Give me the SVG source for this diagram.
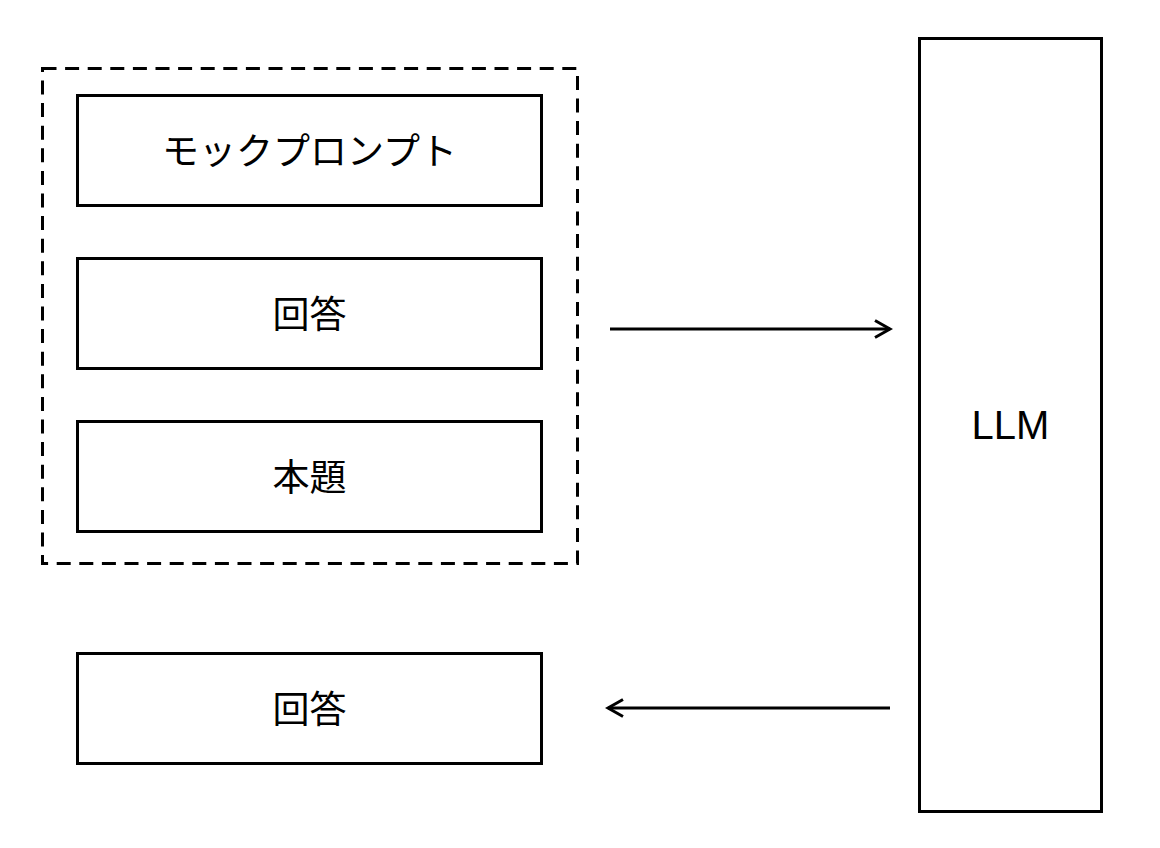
<svg xmlns="http://www.w3.org/2000/svg" width="1160" height="848" viewBox="0 0 1160 848">
<style>
.box{fill:#fff;stroke:#000;stroke-width:3}
.grp{fill:none;stroke:#000;stroke-width:3;stroke-dasharray:14 8.6}
.lbl{font-family:"Noto Sans CJK JP","Noto Sans",sans-serif;font-size:37px;fill:#000;text-anchor:middle;dominant-baseline:central}
.con{fill:none;stroke:#000;stroke-width:3}
</style>
<defs>
<marker id="arr" viewBox="0 0 20 20" refX="17" refY="10" markerWidth="20" markerHeight="20" markerUnits="userSpaceOnUse" orient="auto">
<path d="M2,1.5 L17,10 L2,18.5" fill="none" stroke="#000" stroke-width="3"/>
</marker>
</defs>
<rect width="1160" height="848" fill="#fff"/>
<g id="group-input"><rect class="grp" x="42.5" y="68.5" width="535" height="495"/></g>
<g id="node-mock"><rect class="box" x="77.5" y="95.5" width="464" height="110"/><text class="lbl" x="309.5" y="148.5">モックプロンプト</text></g>
<g id="node-answer1"><rect class="box" x="77.5" y="258.5" width="464" height="110"/><text class="lbl" x="309.5" y="311.5">回答</text></g>
<g id="node-main"><rect class="box" x="77.5" y="421.5" width="464" height="110"/><text class="lbl" x="309.5" y="474.5">本題</text></g>
<g id="node-answer2"><rect class="box" x="77.5" y="653.5" width="464" height="110"/><text class="lbl" x="309.5" y="706.5">回答</text></g>
<g id="node-llm"><rect class="box" x="919.5" y="38.5" width="182" height="773"/><text class="lbl" x="1010.5" y="425" style="font-family:'Liberation Sans','Noto Sans',sans-serif;font-size:40px">LLM</text></g>
<g id="connectors">
<line class="con" x1="610" y1="329" x2="890" y2="329" marker-end="url(#arr)"/>
<line class="con" x1="890" y1="708" x2="608" y2="708" marker-end="url(#arr)"/>
</g>
</svg>
